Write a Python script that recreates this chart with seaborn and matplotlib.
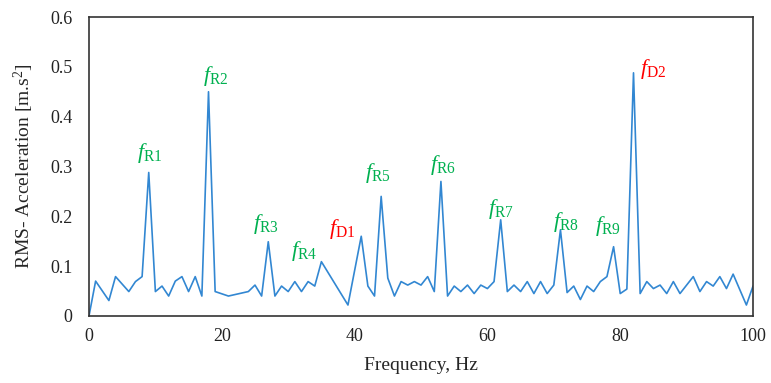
import matplotlib
matplotlib.use('Agg')
import matplotlib.pyplot as plt
import seaborn as sns
from matplotlib.ticker import FuncFormatter

# RMS acceleration spectrum
freq = [0, 1, 3, 4, 6, 7, 8, 9, 10, 11, 12, 13, 14, 15, 16, 17, 18, 19, 21, 24,
        25, 26, 27, 28, 29, 30, 31, 32, 33, 34, 35, 39, 41, 42, 43, 44, 45, 46, 47, 48,
        49, 50, 51, 52, 53, 54, 55, 56, 57, 58, 59, 60, 61, 62, 63, 64, 65, 66, 67, 68,
        69, 70, 71, 72, 73, 74, 75, 76, 77, 78, 79, 80, 81, 82, 83, 84, 85, 86, 87, 88,
        89, 90, 91, 92, 93, 94, 95, 96, 97, 99, 100]
rms = [0.0, 0.070, 0.031, 0.079, 0.049, 0.069, 0.079, 0.288, 0.049, 0.060, 0.040, 0.070, 0.079, 0.049, 0.079, 0.040, 0.450, 0.049, 0.040, 0.049,
       0.062, 0.040, 0.149, 0.040, 0.060, 0.049, 0.069, 0.049, 0.069, 0.060, 0.109, 0.022, 0.160, 0.060, 0.040, 0.240, 0.076, 0.040, 0.069, 0.062,
       0.069, 0.062, 0.079, 0.049, 0.270, 0.040, 0.060, 0.049, 0.062, 0.045, 0.062, 0.055, 0.069, 0.193, 0.049, 0.062, 0.049, 0.069, 0.045, 0.069,
       0.045, 0.062, 0.173, 0.047, 0.060, 0.033, 0.060, 0.049, 0.069, 0.079, 0.139, 0.045, 0.054, 0.488, 0.045, 0.069, 0.055, 0.062, 0.045, 0.069,
       0.045, 0.062, 0.079, 0.049, 0.069, 0.060, 0.079, 0.055, 0.084, 0.022, 0.060]

# labelled peaks
peak_names = ['R1', 'R2', 'R3', 'R4', 'D1', 'R5', 'R6', 'R7', 'R8', 'R9', 'D2']
peak_freq = [9, 18, 27, 35, 41, 44, 53, 62, 71, 79, 82]
peak_kind = ['R', 'R', 'R', 'R', 'D', 'R', 'R', 'R', 'R', 'R', 'D']
# label offsets from the peak (pixels)
label_off = [(1, 7), (7, 4), (-2, 6), (-17, -1), (-19, -5), (-3, 11),
             (2, 4), (0, -1), (5, -4), (-6, 9), (6, -8)]

sns.set_style('white')
plt.rcParams['font.family'] = ['Liberation Serif', 'DejaVu Serif']
plt.rcParams['mathtext.fontset'] = 'custom'
plt.rcParams['mathtext.rm'] = 'Liberation Serif'
plt.rcParams['mathtext.it'] = 'Liberation Serif:italic'

fig, ax = plt.subplots(figsize=(7.71, 3.83), dpi=100)
fig.subplots_adjust(left=0.1154, right=0.9767, bottom=0.175, top=0.9556)

sns.lineplot(x=freq, y=rms, ax=ax, color='#3287D2', linewidth=1.2)

kind_color = {'R': '#00B050', 'D': '#FF0000'}
rms_at = dict(zip(freq, rms))
for name, f, k, off in zip(peak_names, peak_freq, peak_kind, label_off):
    ha = 'left' if name == 'D2' else 'center'
    ax.annotate(r'$\mathit{f}_{\mathrm{%s}}$' % name, xy=(f, rms_at[f]),
                xytext=off, textcoords='offset pixels', ha=ha, va='bottom',
                color=kind_color[k], fontsize=16)

ax.set_xlim(0, 100)
ax.set_ylim(0, 0.6)
ax.set_xticks([0, 20, 40, 60, 80, 100])
ax.set_yticks([0, 0.1, 0.2, 0.3, 0.4, 0.5, 0.6])
ax.yaxis.set_major_formatter(FuncFormatter(lambda v, p: f'{v:g}'))
ax.tick_params(axis='both', length=0, labelsize=13, colors='#222222')
ax.tick_params(axis='y', pad=12)
ax.tick_params(axis='x', pad=9)

for s in ax.spines.values():
    s.set_visible(True)
    s.set_color('#333333')
    s.set_linewidth(1.2)

ax.set_xlabel('Frequency, Hz', fontsize=14, labelpad=8)
ax.set_ylabel(r'RMS- Acceleration [m.s$^{2}$]', fontsize=14, labelpad=10)

plt.savefig('out.png', dpi=100)
